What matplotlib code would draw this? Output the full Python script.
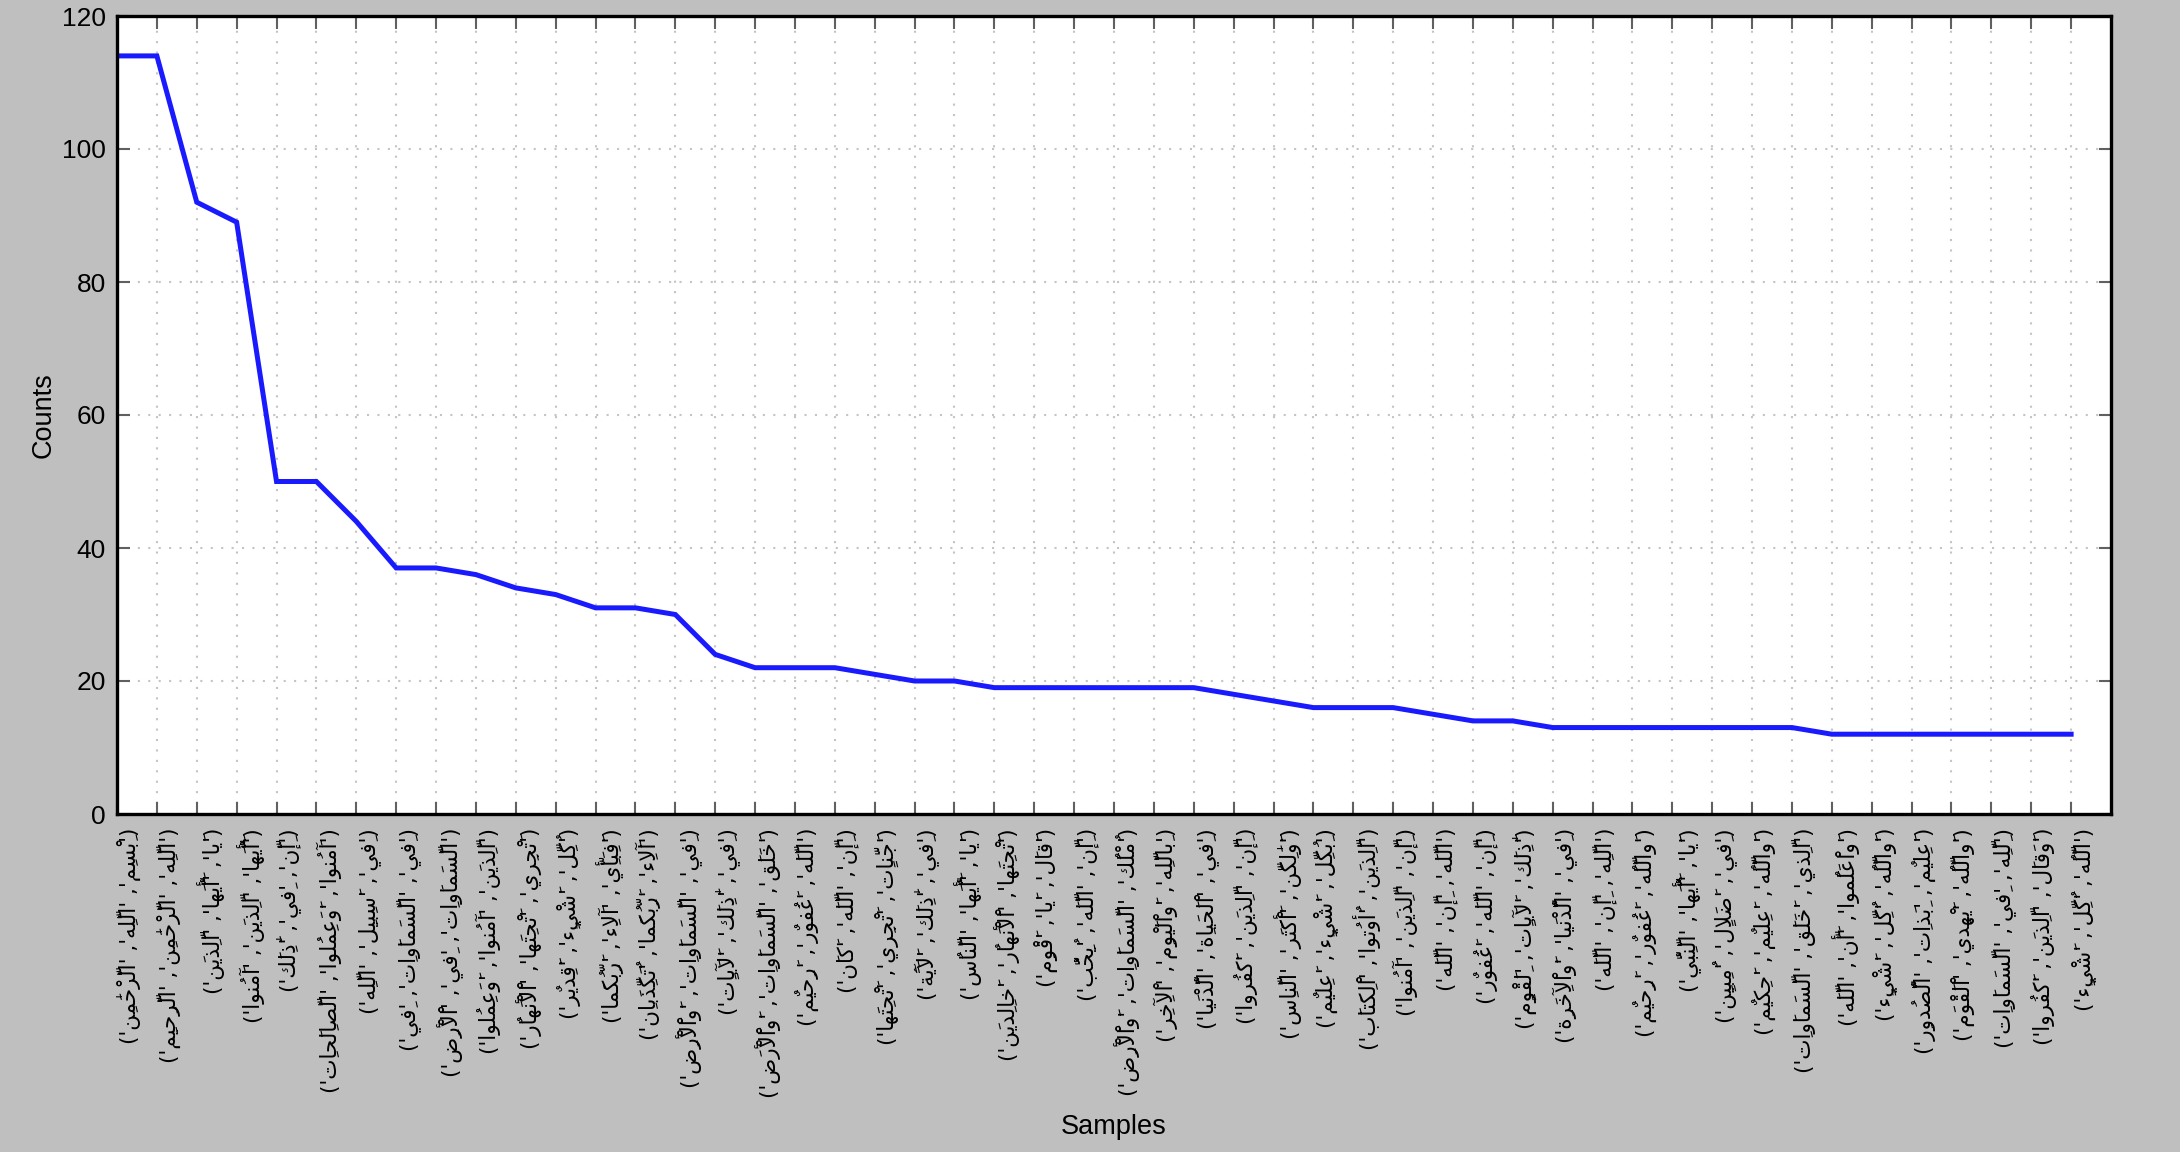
import matplotlib
matplotlib.use("Agg")
import matplotlib.pyplot as plt

# ---------------- data ----------------
trigrams = [
    ("بِسْمِ", "اللَّهِ", "الرَّحْمَٰنِ"),
    ("اللَّهِ", "الرَّحْمَٰنِ", "الرَّحِيمِ"),
    ("يَا", "أَيُّهَا", "الَّذِينَ"),
    ("أَيُّهَا", "الَّذِينَ", "آمَنُوا"),
    ("إِنَّ", "فِي", "ذَٰلِكَ"),
    ("آمَنُوا", "وَعَمِلُوا", "الصَّالِحَاتِ"),
    ("فِي", "سَبِيلِ", "اللَّهِ"),
    ("فِي", "السَّمَاوَاتِ", "فِي"),
    ("السَّمَاوَاتِ", "فِي", "الْأَرْضِ"),
    ("الَّذِينَ", "آمَنُوا", "وَعَمِلُوا"),
    ("تَجْرِي", "تَحْتِهَا", "الْأَنْهَارُ"),
    ("كُلِّ", "شَيْءٍ", "قَدِيرٌ"),
    ("فَبِأَيِّ", "آلَاءِ", "رَبِّكُمَا"),
    ("آلَاءِ", "رَبِّكُمَا", "تُكَذِّبَانِ"),
    ("فِي", "السَّمَاوَاتِ", "وَالْأَرْضِ"),
    ("فِي", "ذَٰلِكَ", "لَآيَاتٍ"),
    ("خَلَقَ", "السَّمَاوَاتِ", "وَالْأَرْضَ"),
    ("اللَّهَ", "غَفُورٌ", "رَحِيمٌ"),
    ("إِنَّ", "اللَّهَ", "كَانَ"),
    ("جَنَّاتٍ", "تَجْرِي", "تَحْتِهَا"),
    ("فِي", "ذَٰلِكَ", "لَآيَةً"),
    ("يَا", "أَيُّهَا", "النَّاسُ"),
    ("تَحْتِهَا", "الْأَنْهَارُ", "خَالِدِينَ"),
    ("قَالَ", "يَا", "قَوْمِ"),
    ("إِنَّ", "اللَّهَ", "يُحِبُّ"),
    ("مُلْكُ", "السَّمَاوَاتِ", "وَالْأَرْضِ"),
    ("بِاللَّهِ", "وَالْيَوْمِ", "الْآخِرِ"),
    ("فِي", "الْحَيَاةِ", "الدُّنْيَا"),
    ("إِنَّ", "الَّذِينَ", "كَفَرُوا"),
    ("وَلَٰكِنَّ", "أَكْثَرَ", "النَّاسِ"),
    ("بِكُلِّ", "شَيْءٍ", "عَلِيمٌ"),
    ("الَّذِينَ", "أُوتُوا", "الْكِتَابَ"),
    ("إِنَّ", "الَّذِينَ", "آمَنُوا"),
    ("اللَّهَ", "إِنَّ", "اللَّهَ"),
    ("إِنَّ", "اللَّهَ", "غَفُورٌ"),
    ("ذَٰلِكَ", "لَآيَاتٍ", "لِقَوْمٍ"),
    ("فِي", "الدُّنْيَا", "وَالْآخِرَةِ"),
    ("اللَّهِ", "إِنَّ", "اللَّهَ"),
    ("وَاللَّهُ", "غَفُورٌ", "رَحِيمٌ"),
    ("يَا", "أَيُّهَا", "النَّبِيُّ"),
    ("فِي", "ضَلَالٍ", "مُبِينٍ"),
    ("وَاللَّهُ", "عَلِيمٌ", "حَكِيمٌ"),
    ("الَّذِي", "خَلَقَ", "السَّمَاوَاتِ"),
    ("وَاعْلَمُوا", "أَنَّ", "اللَّهَ"),
    ("وَاللَّهُ", "كُلِّ", "شَيْءٍ"),
    ("عَلِيمٌ", "بِذَاتِ", "الصُّدُورِ"),
    ("وَاللَّهُ", "يَهْدِي", "الْقَوْمَ"),
    ("لِلَّهِ", "فِي", "السَّمَاوَاتِ"),
    ("وَقَالَ", "الَّذِينَ", "كَفَرُوا"),
    ("اللَّهُ", "كُلِّ", "شَيْءٍ"),
]
counts = [114, 114, 92, 89, 50, 50, 44, 37, 37, 36,
          34, 33, 31, 31, 30, 24, 22, 22, 22, 21,
          20, 20, 19, 19, 19, 19, 19, 19, 18, 17,
          16, 16, 16, 15, 14, 14, 13, 13, 13, 13,
          13, 13, 13, 12, 12, 12, 12, 12, 12, 12]
y_ticks = [0, 20, 40, 60, 80, 100, 120]
x_title = "Samples"
y_title = "Counts"

# ------------- minimal Arabic shaping + RTL display -------------
_forms_start = {
    "ء": (0xFE80, 1), "آ": (0xFE81, 2), "أ": (0xFE83, 2), "ؤ": (0xFE85, 2),
    "إ": (0xFE87, 2), "ئ": (0xFE89, 4), "ا": (0xFE8D, 2), "ب": (0xFE8F, 4),
    "ة": (0xFE93, 2), "ت": (0xFE95, 4), "ث": (0xFE99, 4), "ج": (0xFE9D, 4),
    "ح": (0xFEA1, 4), "خ": (0xFEA5, 4), "د": (0xFEA9, 2), "ذ": (0xFEAB, 2),
    "ر": (0xFEAD, 2), "ز": (0xFEAF, 2), "س": (0xFEB1, 4), "ش": (0xFEB5, 4),
    "ص": (0xFEB9, 4), "ض": (0xFEBD, 4), "ط": (0xFEC1, 4), "ظ": (0xFEC5, 4),
    "ع": (0xFEC9, 4), "غ": (0xFECD, 4), "ف": (0xFED1, 4), "ق": (0xFED5, 4),
    "ك": (0xFED9, 4), "ل": (0xFEDD, 4), "م": (0xFEE1, 4), "ن": (0xFEE5, 4),
    "ه": (0xFEE9, 4), "و": (0xFEED, 2), "ى": (0xFEEF, 2), "ي": (0xFEF1, 4),
}
_lamalef = {"آ": 0xFEF5, "أ": 0xFEF7, "إ": 0xFEF9, "ا": 0xFEFB}


def _is_mark(ch):
    o = ord(ch)
    return 0x064B <= o <= 0x0652 or o == 0x0670


def _joins_prev(b):
    if b.startswith("LA"):
        return True
    return b in _forms_start and _forms_start[b][1] >= 2


def _joins_next(b):
    return b in _forms_start and _forms_start[b][1] == 4


def shape_rtl(text):
    clusters = []
    for ch in text:
        if _is_mark(ch) and clusters:
            clusters[-1][1] += ch
        else:
            clusters.append([ch, ""])
    merged = []
    i = 0
    while i < len(clusters):
        b, m = clusters[i]
        if b == "ل" and i + 1 < len(clusters) and clusters[i + 1][0] in _lamalef:
            merged.append(["LA" + clusters[i + 1][0], m + clusters[i + 1][1]])
            i += 2
        else:
            merged.append([b, m])
            i += 1
    out = []
    for k, (b, m) in enumerate(merged):
        prev_b = merged[k - 1][0] if k > 0 else None
        next_b = merged[k + 1][0] if k + 1 < len(merged) else None
        jp = prev_b is not None and _joins_next(prev_b) and _joins_prev(b)
        if b.startswith("LA"):
            g = chr(_lamalef[b[2:]] + (1 if jp else 0))
        elif b in _forms_start:
            start, n = _forms_start[b]
            jn = n == 4 and next_b is not None and _joins_prev(next_b)
            if n == 1:
                g = chr(start)
            elif n == 2:
                g = chr(start + (1 if jp else 0))
            else:
                if jp and jn:
                    g = chr(start + 3)
                elif jp:
                    g = chr(start + 1)
                elif jn:
                    g = chr(start + 2)
                else:
                    g = chr(start)
        else:
            g = {"(": ")", ")": "("}.get(b, b)
        out.append(g + m)
    return "".join(reversed(out))


labels = [shape_rtl("(" + ", ".join("'%s'" % w for w in t) + ")") for t in trigrams]

# ---------------- plot ----------------
plt.rcParams["font.family"] = ["Liberation Sans", "DejaVu Sans"]
fig = plt.figure(figsize=(21.8, 11.52), dpi=100, facecolor="#bfbfbf")
ax = fig.add_axes([117 / 2180, 1 - 814 / 1152, (2111 - 117) / 2180, (814 - 16) / 1152])
ax.set_facecolor("white")

x = list(range(len(counts)))
ax.plot(x, counts, color="#1a1aff", linewidth=3.6, solid_joinstyle="miter")

ax.set_xlim(0, 50)
ax.set_ylim(0, 120)
ax.set_yticks(y_ticks)
ax.set_xticks(x)
ax.set_xticklabels(labels, rotation=90, family=["DejaVu Sans"], fontsize=15.5,
                   ha="left", va="top")
ax.tick_params(axis="both", direction="in", length=9, width=1.5, color="#606060",
               top=True, right=True, labelsize=19)
ax.tick_params(axis="x", pad=10, labelsize=15.5)
ax.tick_params(axis="y", pad=8)
ax.grid(True, linestyle=(0, (1, 4)), color="#c4c4c4", linewidth=1.5)
for s in ax.spines.values():
    s.set_linewidth(2.4)
    s.set_color("black")

ax.set_xlabel(x_title, fontsize=19.5, labelpad=12)
ax.set_ylabel(y_title, fontsize=19.5, labelpad=4)

fig.savefig("out.png", dpi=100, facecolor=fig.get_facecolor())
